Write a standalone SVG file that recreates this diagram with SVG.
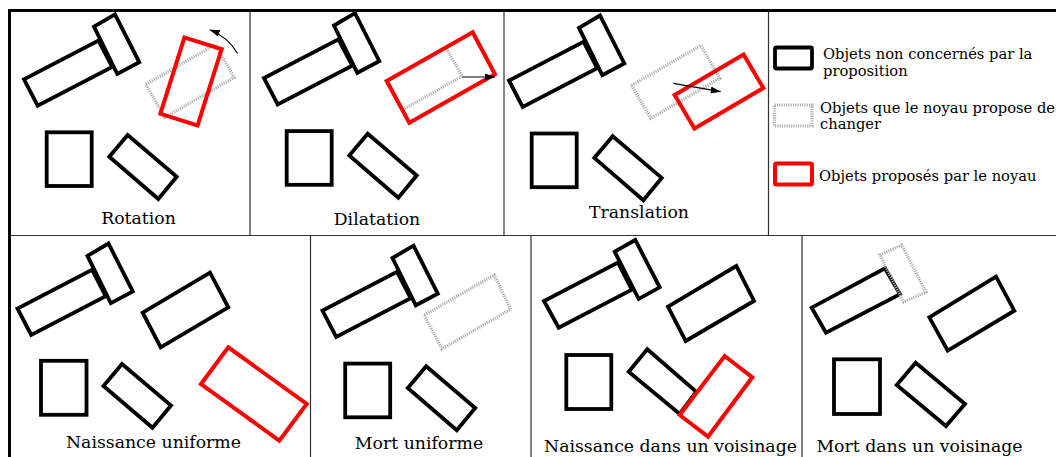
<svg xmlns="http://www.w3.org/2000/svg" width="1056" height="457" viewBox="0 0 1056 457">
<style>
.obj{fill:#fff;stroke:#000;stroke-width:3.8;stroke-linejoin:miter}
.chg{fill:none;stroke:#b0b0b0;stroke-width:3.2;stroke-dasharray:1.2 1.1}
.prop{fill:none;stroke:#ff0000;stroke-width:4}
.div{stroke:#333;stroke-width:1.2;fill:none}
.frame{stroke:#000;stroke-width:3;fill:none}
.lbl{font-family:"DejaVu Serif",serif;font-size:17.3px;fill:#000;text-anchor:middle}
.leg{font-family:"DejaVu Serif",serif;font-size:14.7px;fill:#000}
.arr{stroke:#000;stroke-width:1.2;fill:none}
</style>
<defs>
<marker id="ah" markerUnits="userSpaceOnUse" markerWidth="10" markerHeight="7" refX="10" refY="3.5" orient="auto">
<path d="M0,0 L10,3.5 L0,7 z" fill="#000"/>
</marker>
</defs>
<rect width="1056" height="457" fill="#fff"/>

<g id="frame">
<line class="div" x1="250" y1="10" x2="250" y2="236"/>
<line class="div" x1="504" y1="10" x2="504" y2="236"/>
<line class="div" x1="768.5" y1="10" x2="768.5" y2="236"/>
<line class="div" x1="9" y1="235.5" x2="1056" y2="235.5"/>
<line class="div" x1="310.5" y1="235.5" x2="310.5" y2="457"/>
<line class="div" x1="531" y1="235.5" x2="531" y2="457"/>
<line class="div" x1="802" y1="235.5" x2="802" y2="457"/>
<line class="frame" x1="8" y1="10.5" x2="1056" y2="10.5"/>
<line class="frame" x1="9.5" y1="9" x2="9.5" y2="457"/>
</g>

<g id="panel-rotation">
<polygon class="obj" points="24,79.3 37.7,105.7 112.2,66.9 98.5,40.5"/>
<polygon class="obj" points="94,26.7 115,14.3 139.3,62.3 117.3,74"/>
<rect class="obj" x="46.7" y="132.3" width="45" height="53.7"/>
<polygon class="obj" points="127.7,135 176.7,176.7 158.3,199 109.3,156.7"/>
<rect class="chg" x="-40" y="-19" width="80" height="38" transform="translate(190,81) rotate(-30)"/>
<rect class="prop" x="-40" y="-19.5" width="80" height="39" transform="translate(191,81.4) rotate(-72.5)"/>
<text class="lbl" x="138.5" y="224">Rotation</text>
</g>

<g id="panel-dilatation">
<polygon class="obj" points="264,78.1 277.7,104.5 352.2,65.7 338.5,39.3"/>
<polygon class="obj" points="334,25.5 355,13.1 379.3,61.1 357.3,72.8"/>
<rect class="obj" x="286.7" y="131.1" width="45" height="53.7"/>
<polygon class="obj" points="367.7,133.8 416.7,175.5 398.3,197.8 349.3,155.5"/>
<polygon class="chg" points="386.7,81 445.9,47.5 462.1,76.2 402.9,109.7"/>
<polygon class="prop" points="386.7,81 472.7,32.3 495,74.3 409.3,122.7"/>
<text class="lbl" x="377" y="225">Dilatation</text>
</g>

<g id="panel-translation">
<polygon class="obj" points="509,80.5 522.7,106.9 597.2,68.1 583.5,41.7"/>
<polygon class="obj" points="579,27.9 600,15.5 624.3,63.5 602.3,75.2"/>
<rect class="obj" x="531.7" y="133.5" width="45" height="53.7"/>
<polygon class="obj" points="612.7,136.2 661.7,177.9 643.3,200.2 594.3,157.9"/>
<rect class="chg" x="-40" y="-19" width="80" height="38" transform="translate(675.7,81.9) rotate(-30)"/>
<rect class="prop" x="-40" y="-19.5" width="80" height="39" transform="translate(719,91.5) rotate(-30.5)"/>
<text class="lbl" x="639" y="218.3">Translation</text>
</g>

<g id="legend">
<rect class="obj" x="775" y="47.5" width="37" height="21" rx="1.5"/>
<text class="leg" x="823" y="59">Objets non concernés par la</text>
<text class="leg" x="823" y="75.5">proposition</text>
<rect class="chg" x="774.5" y="105" width="37.5" height="21"/>
<text class="leg" x="820" y="112.5">Objets que le noyau propose de</text>
<text class="leg" x="820" y="129">changer</text>
<rect class="prop" x="775" y="163.5" width="37" height="21" rx="1.5"/>
<text class="leg" x="819" y="181">Objets proposés par le noyau</text>
</g>

<g id="panel-naissance-uniforme">
<polygon class="obj" points="17.5,308.5 31.2,334.9 105.7,296.1 92,269.7"/>
<polygon class="obj" points="87.5,255.9 108.5,243.5 132.8,291.5 110.8,303.2"/>
<rect class="obj" x="41" y="360.8" width="45.5" height="54"/>
<polygon class="obj" points="122,364 171,405.5 152.5,427.8 103.5,386"/>
<polygon class="obj" points="142.7,312.7 210,272.7 228.3,307.3 160.7,347.3"/>
<polygon class="prop" points="201,384 228.3,347.3 306.7,404 279.3,440.7"/>
<text class="lbl" x="153.5" y="448.3">Naissance uniforme</text>
</g>

<g id="panel-mort-uniforme">
<polygon class="obj" points="322.5,310.6 336.2,337 410.7,298.2 397,271.8"/>
<polygon class="obj" points="392.5,258 413.5,245.6 437.8,293.6 415.8,305.3"/>
<rect class="obj" x="345.2" y="363.6" width="45" height="53.7"/>
<polygon class="obj" points="426.2,366.3 475.2,408 456.8,430.3 407.8,388"/>
<polygon class="chg" points="424.3,315 494.3,275 510.7,309.3 441.7,349"/>
<text class="lbl" x="419" y="449.3">Mort uniforme</text>
</g>

<g id="panel-naissance-voisinage">
<polygon class="obj" points="544,301 558.7,327.7 631.8,289.7 617.9,262.5"/>
<polygon class="obj" points="614.7,251.7 635.3,240 659.7,287.3 638.7,299"/>
<rect class="obj" x="566.3" y="355" width="45" height="54"/>
<polygon class="obj" points="647.3,349.3 696.3,391.7 679.7,414 628.7,371.7"/>
<polygon class="obj" points="668,306.7 736.3,266 754,301 685.7,341"/>
<polygon class="prop" points="679.7,415 724.7,356 752.3,377.3 708,436.7"/>
<text class="lbl" x="670.5" y="451.7">Naissance dans un voisinage</text>
</g>

<g id="panel-mort-voisinage">
<polygon class="obj" points="811.7,307.7 826,332.7 900,294.3 885,268.3"/>
<polygon class="chg" points="880,255 901.7,245 926,292.3 903.5,302"/>
<rect class="obj" x="834" y="359.3" width="46" height="54.7"/>
<polygon class="obj" points="915.7,362.7 965,404 946,426 896.7,385"/>
<polygon class="obj" points="929.3,317.3 996,276.7 1014.3,310.7 947.7,350.7"/>
<text class="lbl" x="919.5" y="451.7">Mort dans un voisinage</text>
</g>

<g id="connectors">
<path class="arr" d="M237.6,53.5 A55,55 0 0 0 209.7,29.7" marker-end="url(#ah)"/>
<line class="arr" x1="462.1" y1="77" x2="495" y2="77" marker-end="url(#ah)"/>
<line class="arr" x1="673.3" y1="83.3" x2="720.7" y2="91.7" marker-end="url(#ah)"/>
</g>
</svg>
